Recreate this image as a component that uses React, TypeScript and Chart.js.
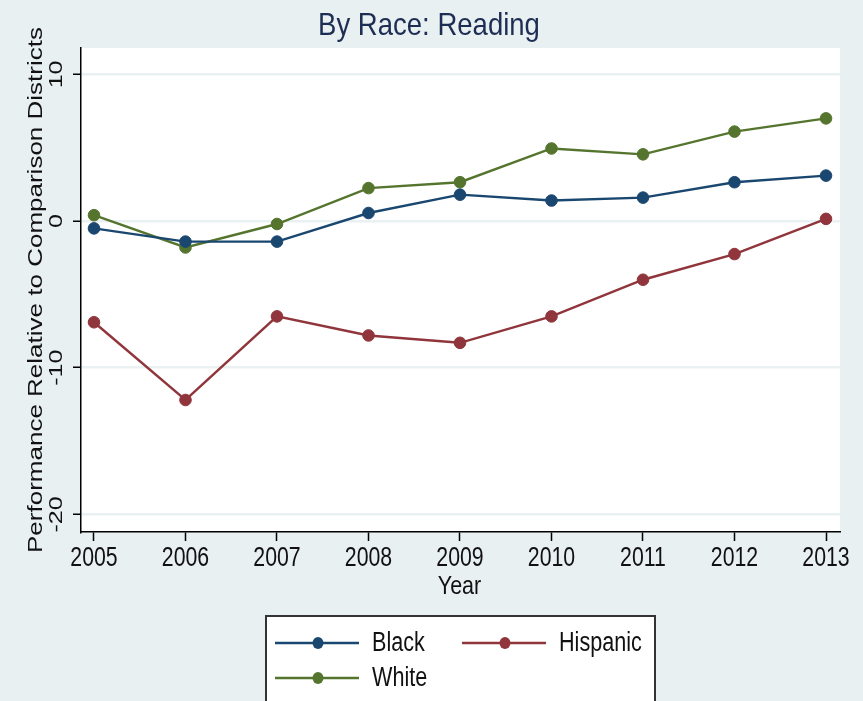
import React, { useEffect, useRef } from "react";
import { Chart, registerables } from "chart.js";

Chart.register(...registerables);

const years = [2005, 2006, 2007, 2008, 2009, 2010, 2011, 2012, 2013];
const black = [-0.5, -1.4, -1.4, 0.55, 1.8, 1.4, 1.6, 2.65, 3.1];
const hispanic = [-6.9, -12.2, -6.5, -7.8, -8.3, -6.5, -4.0, -2.25, 0.15];
const white = [0.4, -1.8, -0.2, 2.25, 2.65, 4.95, 4.55, 6.1, 7.0];
const yTicks = [-20, -10, 0, 10];
const seriesNames = ["Black", "Hispanic", "White"];
const seriesColors = ["#1a476f", "#90353b", "#55752f"];
const titleText = "By Race: Reading";
const xTitle = "Year";
const yTitle = "Performance Relative to Comparison Districts";

const BG = "#e8f0f2";
const WIDE = "'Liberation Sans', Arial, sans-serif";

function narrowText(ctx: any, text: string, x: number, y: number, size: number, sx: number, align: string, baseline: string) {
  ctx.save();
  ctx.translate(x, y);
  ctx.scale(sx, 1);
  ctx.font = `${size}px ${WIDE}`;
  ctx.textAlign = align;
  ctx.textBaseline = baseline;
  ctx.fillText(text, 0, 0);
  ctx.restore();
}

function verticalText(ctx: any, text: string, x: number, y: number, size: number, sx: number) {
  ctx.save();
  ctx.translate(x, y);
  ctx.scale(sx, 1);
  ctx.rotate(-Math.PI / 2);
  ctx.font = `${size}px ${WIDE}`;
  ctx.textAlign = "center";
  ctx.textBaseline = "alphabetic";
  ctx.fillText(text, 0, 0);
  ctx.restore();
}

const decorPlugin = {
  id: "decor",
  beforeDraw(chart: any) {
    const { ctx, chartArea } = chart;
    ctx.save();
    ctx.fillStyle = BG;
    ctx.fillRect(0, 0, chart.width, chart.height);
    ctx.fillStyle = "#ffffff";
    ctx.fillRect(chartArea.left, chartArea.top, chartArea.right - chartArea.left, chartArea.bottom - chartArea.top);
    ctx.restore();
  },
  afterDraw(chart: any) {
    const { ctx, chartArea } = chart;
    const xs = chart.scales.x;
    const ys = chart.scales.y;
    ctx.save();
    // title
    ctx.fillStyle = "#1e2d53";
    narrowText(ctx, titleText, 429, 35, 32, 0.86, "center", "alphabetic");

    // x tick labels
    ctx.fillStyle = "#111111";
    years.forEach((yr) => {
      narrowText(ctx, String(yr), xs.getPixelForValue(yr), 566, 28, 0.76, "center", "alphabetic");
    });
    // x title
    narrowText(ctx, xTitle, (chartArea.left + chartArea.right) / 2 - 1, 594, 25, 0.86, "center", "alphabetic");

    // y tick labels rotated
    yTicks.forEach((v) => {
      verticalText(ctx, String(v), 62, ys.getPixelForValue(v), 25, 0.76);
    });
    // y title
    verticalText(ctx, yTitle, 42, (chartArea.top + chartArea.bottom) / 2, 26, 0.76);

    // legend
    const lx = 266, ly = 616, lw = 389, lh = 110;
    ctx.fillStyle = "#ffffff";
    ctx.fillRect(lx, ly, lw, lh);
    ctx.strokeStyle = "#333333";
    ctx.lineWidth = 2;
    ctx.strokeRect(lx, ly, lw, lh);
    chart.data.datasets.forEach((ds: any, i: number) => {
      const col = i % 2;
      const row = Math.floor(i / 2);
      const x0 = 275 + col * 187;
      const yc = 643 + row * 35;
      ctx.strokeStyle = ds.borderColor;
      ctx.lineWidth = 2.5;
      ctx.beginPath();
      ctx.moveTo(x0, yc);
      ctx.lineTo(x0 + 84, yc);
      ctx.stroke();
      ctx.fillStyle = ds.borderColor;
      ctx.beginPath();
      ctx.ellipse(x0 + 43, yc, 5.5, 6, 0, 0, Math.PI * 2);
      ctx.fill();
      ctx.fillStyle = "#111111";
      narrowText(ctx, ds.label, x0 + 97, yc + 1, 27, 0.8, "left", "middle");
    });
    ctx.restore();
  },
};

export default function App() {
  const ref = useRef<HTMLCanvasElement>(null);
  useEffect(() => {
    document.body.style.margin = "0";
    const seriesData = [black, hispanic, white];
    const chart = new Chart(ref.current!, {
      type: "line",
      data: {
        datasets: seriesData.map((vals, i) => ({
          label: seriesNames[i],
          data: years.map((yr, j) => ({ x: yr, y: vals[j] })),
          borderColor: seriesColors[i],
          backgroundColor: seriesColors[i],
          pointBackgroundColor: seriesColors[i],
          pointBorderColor: seriesColors[i],
          borderWidth: 2.4,
          pointRadius: 5.8,
          pointBorderWidth: 1,
          tension: 0,
        })),
      },
      options: {
        animation: false,
        responsive: false,
        layout: { padding: { left: 73, top: 48, right: 23, bottom: 160 } },
        plugins: { legend: { display: false }, tooltip: { enabled: false }, title: { display: false } },
        scales: {
          x: {
            type: "linear",
            min: 2004.858,
            max: 2013.153,
            afterBuildTicks: (s: any) => {
              s.ticks = years.map((v) => ({ value: v }));
            },
            ticks: { display: false },
            grid: { display: true, drawOnChartArea: false, drawTicks: true, tickLength: 9, tickColor: "#000", tickWidth: 1.5 },
            border: { display: true, color: "#000", width: 1.5 },
          },
          y: {
            type: "linear",
            min: -21.2,
            max: 11.8,
            afterBuildTicks: (s: any) => {
              s.ticks = yTicks.map((v) => ({ value: v }));
            },
            ticks: { display: false },
            grid: { color: "#eaf1f3", lineWidth: 2.5, drawTicks: true, tickLength: 8, tickColor: "#000", tickWidth: 1.5 },
            border: { display: true, color: "#000", width: 1.5 },
          },
        },
      },
      plugins: [decorPlugin],
    });
    return () => chart.destroy();
  }, []);
  return (
    <div style={{ width: 863, height: 701 }}>
      <canvas ref={ref} width={863} height={701} style={{ display: "block" }} />
    </div>
  );
}
